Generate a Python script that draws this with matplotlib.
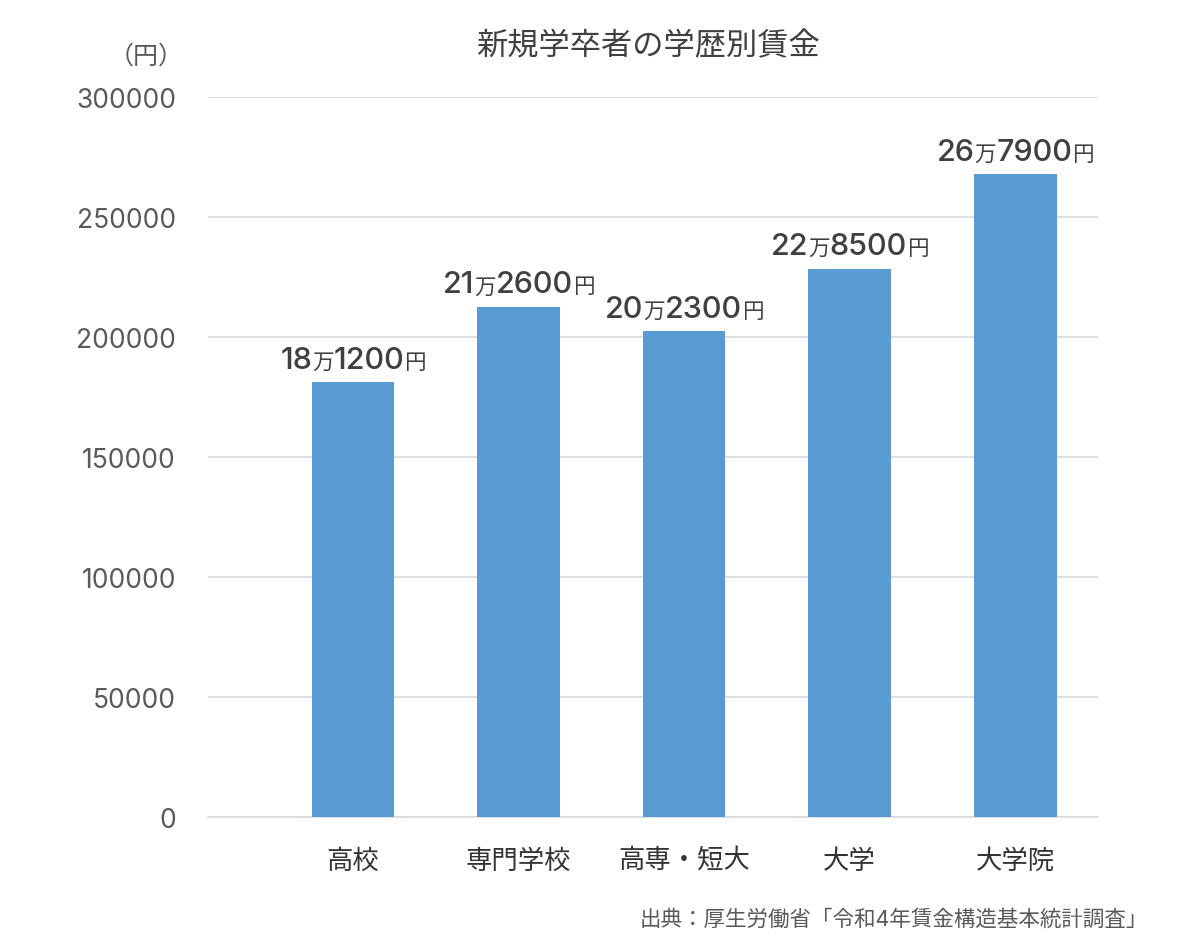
import matplotlib
matplotlib.use('Agg')
import matplotlib.pyplot as plt
from matplotlib.offsetbox import TextArea, HPacker, AnnotationBbox

# latin font for digits, CJK font for the rest
plt.rcParams['font.family'] = ['Inter', 'Noto Sans CJK JP', 'DejaVu Sans']

# data
categories = ['高校', '専門学校', '高専・短大', '大学', '大学院']
wages = [181200, 212600, 202300, 228500, 267900]
yticks = [0, 50000, 100000, 150000, 200000, 250000, 300000]

bar_color = '#5B9BD5'
grid_color = '#D9D9D9'
tick_color = '#595959'
label_color = '#404040'

fig = plt.figure(figsize=(12, 9.53), dpi=100)
ax = fig.add_axes([0.1733, 0.1417, 0.7417, 0.7555])

x = list(range(len(categories)))
ax.bar(x, wages, width=0.5, color=bar_color, zorder=3)

ax.set_xlim(-0.876, 4.5)
ax.set_ylim(0, 300000)
ax.set_yticks(yticks)
ax.set_yticklabels([str(v) for v in yticks])
ax.set_xticks(x)
ax.set_xticklabels(categories)

ax.grid(axis='y', color=grid_color, linewidth=1.2, zorder=0)
for s in ['top', 'right', 'left']:
    ax.spines[s].set_visible(False)
ax.spines['bottom'].set_color(grid_color)
ax.spines['bottom'].set_linewidth(1.2)
ax.tick_params(axis='y', length=0, pad=23, labelsize=19, labelcolor=tick_color)
ax.tick_params(axis='x', length=0, pad=22, labelsize=19, labelcolor='#333333')

# value labels: big digits, small 万 / 円
for xi, v in zip(x, wages):
    man = v // 10000
    rest = v % 10000
    parts = [(str(man), 22, 'medium'), ('万', 15.5, 'normal'),
             (f'{rest:04d}', 22, 'medium'), ('円', 15.5, 'normal')]
    areas = [TextArea(t, textprops=dict(fontsize=fs, color=label_color, fontweight=fw))
             for t, fs, fw in parts]
    pack = HPacker(children=areas, align='baseline', pad=0, sep=0)
    ab = AnnotationBbox(pack, (xi, v), xycoords='data',
                        xybox=(0, 6), boxcoords='offset points',
                        box_alignment=(0.5, 0), frameon=False, pad=0)
    ax.add_artist(ab)

fig.text(0.54, 0.951, '新規学卒者の学歴別賃金', ha='center', va='center',
         fontsize=22.5, color='#404040')
fig.text(0.153, 0.94, '（円）', ha='right', va='center', fontsize=18, color=tick_color)
fig.text(0.957, 0.035, '出典：厚生労働省「令和4年賃金構造基本統計調査」', ha='right', va='center',
         fontsize=15.5, color=tick_color)

fig.savefig('out.png', dpi=100)
